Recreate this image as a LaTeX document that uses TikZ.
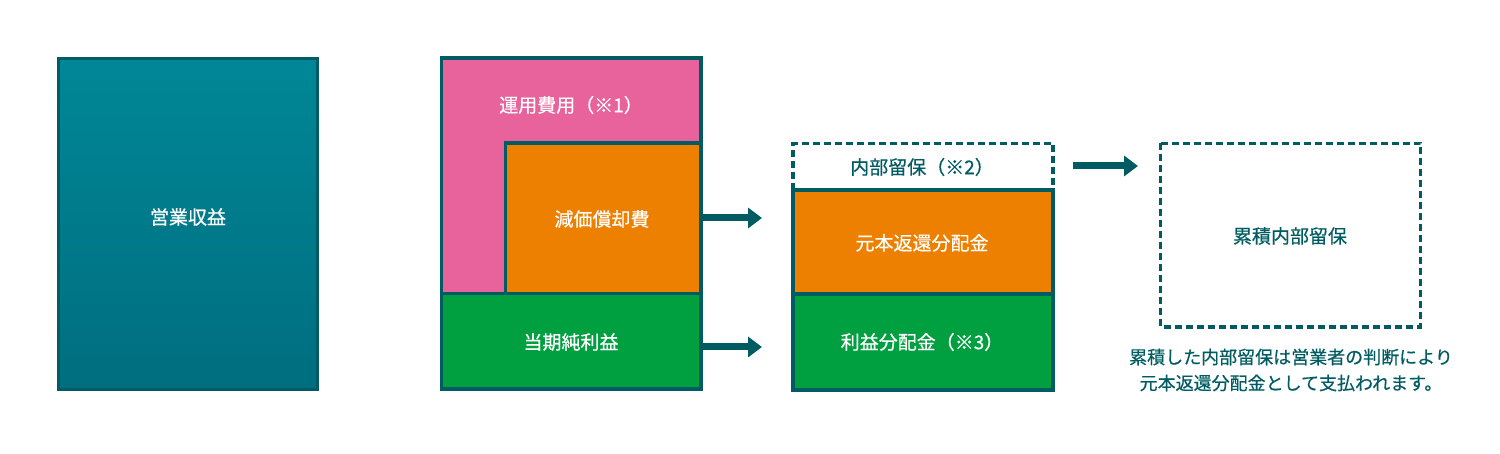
\documentclass[tikz,border=0pt]{standalone}
\usepackage{fontspec}
\setmainfont{Noto Sans CJK JP}
\newfontfamily\medfont{Noto Sans CJK JP}[FakeBold=0.5]
\usetikzlibrary{arrows.meta}
\definecolor{teal}{RGB}{0,92,98}
\definecolor{tealtop}{RGB}{0,135,151}
\definecolor{tealbot}{RGB}{0,110,127}
\definecolor{pinkc}{RGB}{232,98,156}
\definecolor{orangec}{RGB}{238,128,0}
\definecolor{greenc}{RGB}{0,160,64}
\tikzset{
  boxline/.style={draw=teal, line width=3.5pt},
  dotbox/.style={draw=teal, line width=3.5pt, dash pattern=on 7pt off 4pt},
  wlabel/.style={text=white, font=\medfont\fontsize{19pt}{22pt}\selectfont, inner sep=0pt},
  tlabel/.style={text=teal, font=\medfont\fontsize{19pt}{22pt}\selectfont, inner sep=0pt},
  caption/.style={text=teal, font=\medfont\fontsize{18pt}{26pt}\selectfont, align=center, inner sep=0pt},
  bigarrow/.style={draw=teal, line width=7pt, -{Triangle[length=14pt,width=20pt]}}
}
\begin{document}
\begin{tikzpicture}[x=1pt,y=-1pt]
\useasboundingbox (0,0) rectangle (1500,454);
% box 1
\shade[top color=tealtop, bottom color=tealbot] (58.5,58.5) rectangle (317.5,389.5);
\draw[boxline] (58.5,58.5) rectangle (317.5,389.5);
\node[wlabel] (rev) at (188,217) {営業収益};
% box 2
\fill[pinkc] (441.5,58) rectangle (701,293.5);
\fill[orangec] (505.5,143) rectangle (701,293.5);
\fill[greenc] (441.5,293.5) rectangle (701,389);
\draw[boxline] (505.5,293.5) -- (505.5,143) -- (701,143);
\draw[boxline] (441.5,293.5) -- (701,293.5);
\draw[boxline] (441.5,58) rectangle (701,389);
\node[wlabel] (opex) at (571,105) {運用費用（※1）};
\node[wlabel] (dep) at (602,219) {減価償却費};
\node[wlabel] (ni) at (571,342) {当期純利益};
\coordinate (b2r1) at (702,218);
\coordinate (b2r2) at (702,347);
\coordinate (a1e) at (762,218);
\coordinate (a2e) at (762,347);
\draw[bigarrow] (b2r1) -- (a1e);
\draw[bigarrow] (b2r2) -- (a2e);
% box 3
\fill[orangec] (793,190) rectangle (1053,294);
\fill[greenc] (793,294) rectangle (1053,390);
\draw[dotbox] (793,190) -- (793,143.5) -- (1053,143.5) -- (1053,190);
\draw[boxline] (793,190) rectangle (1053,390);
\draw[boxline] (793,294) -- (1053,294);
\node[tlabel] (ret) at (922,167) {内部留保（※2）};
\node[wlabel] (prin) at (922,243) {元本返還分配金};
\node[wlabel] (prof) at (922,342) {利益分配金（※3）};
\coordinate (a3s) at (1073,166);
\coordinate (a3e) at (1138,166);
\draw[bigarrow] (a3s) -- (a3e);
% box 4
\draw[dotbox] (1160.5,143.5) rectangle (1420.5,327);
\node[tlabel] (acc) at (1290,236) {累積内部留保};
\node[caption] (cap) at (1291,370) {累積した内部留保は営業者の判断により\\元本返還分配金として支払われます。};
\end{tikzpicture}
\end{document}
